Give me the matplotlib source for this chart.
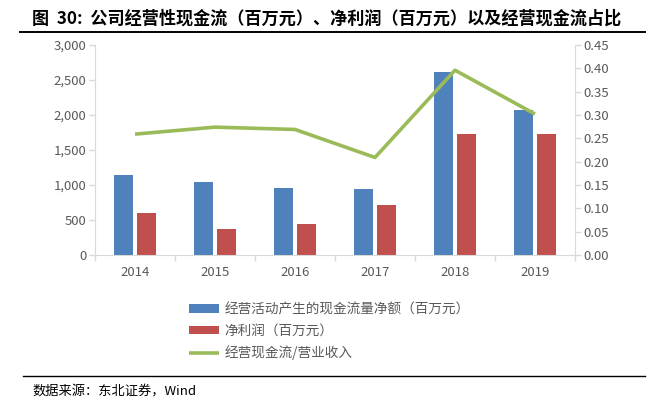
import numpy as np
import matplotlib
matplotlib.use("Agg")
import matplotlib.pyplot as plt
from matplotlib.ticker import FuncFormatter, FixedLocator

plt.rcParams["font.family"] = ["Noto Sans CJK SC", "DejaVu Sans"]

years = ["2014", "2015", "2016", "2017", "2018", "2019"]
cash_flow = [1145, 1040, 962, 940, 2612, 2068]
net_profit = [606, 372, 444, 712, 1724, 1732]
cash_ratio = [0.259, 0.274, 0.269, 0.209, 0.396, 0.302]

label_cash = "经营活动产生的现金流量净额（百万元）"
label_profit = "净利润（百万元）"
label_ratio = "经营现金流/营业收入"

blue = "#4F81BD"
red = "#C0504D"
green = "#9BBB59"
gray_text = "#595959"
axis_gray = "#D9D9D9"

fig = plt.figure(figsize=(6.54, 4.09), dpi=100)
ax = fig.add_axes([95 / 654, 1 - 255 / 409, 480 / 654, 210 / 409])
ax2 = ax.twinx()

x = np.arange(len(years))
w = 0.23
b1 = ax.bar(x - 0.145, cash_flow, width=w, color=blue, label=label_cash)
b2 = ax.bar(x + 0.145, net_profit, width=w, color=red, label=label_profit)
ln, = ax2.plot(x, cash_ratio, color=green, lw=2.6, label=label_ratio,
               solid_capstyle="butt")

ax.set_xlim(-0.5, len(years) - 0.5)
ax.set_ylim(0, 3000)
ax2.set_ylim(0, 0.45)
ax.set_yticks(np.arange(0, 3001, 500))
ax2.set_yticks(np.arange(0, 0.451, 0.05))
ax.yaxis.set_major_formatter(FuncFormatter(lambda v, p: f"{v:,.0f}"))
ax2.yaxis.set_major_formatter(FuncFormatter(lambda v, p: f"{v:.2f}"))

ax.set_xticks(x)
ax.set_xticklabels(years)
ax.tick_params(axis="x", which="major", length=0, pad=8)
ax.xaxis.set_minor_locator(FixedLocator(np.arange(-0.5, len(years), 1)))
ax.tick_params(axis="x", which="minor", length=4, color=axis_gray, width=1)

for a in (ax, ax2):
    for s in a.spines.values():
        s.set_visible(False)
    a.tick_params(axis="y", length=4, color=axis_gray, width=1,
                  labelsize=9.5, labelcolor=gray_text, pad=2)
ax.tick_params(axis="x", labelsize=9.5, labelcolor=gray_text)
ax.spines["left"].set_visible(True)
ax.spines["bottom"].set_visible(True)
ax.spines["left"].set_color(axis_gray)
ax.spines["bottom"].set_color(axis_gray)
ax2.spines["right"].set_visible(True)
ax2.spines["right"].set_color(axis_gray)

fig.legend(handles=[b1, b2, ln], loc="upper left",
           bbox_to_anchor=(184 / 654, 1 - 297 / 409),
           frameon=False, fontsize=9.8, labelcolor=gray_text,
           handlelength=2.2, handleheight=0.6, handletextpad=0.4,
           labelspacing=0.55, borderaxespad=0)

fig.text(32 / 654, 1 - 19 / 409,
         "图  30:  公司经营性现金流（百万元）、净利润（百万元）以及经营现金流占比",
         fontsize=12.3, fontweight="bold", va="center", ha="left")
fig.add_artist(plt.Line2D([20 / 654, 645 / 654], [1 - 32 / 409, 1 - 32 / 409],
                          color="black", lw=1.4))
fig.add_artist(plt.Line2D([23 / 654, 645 / 654], [1 - 376 / 409, 1 - 376 / 409],
                          color="black", lw=1.0))
fig.text(32 / 654, 1 - 392 / 409, "数据来源：东北证券，Wind",
         fontsize=9.5, va="center", ha="left")

fig.savefig("out.png", dpi=100)
